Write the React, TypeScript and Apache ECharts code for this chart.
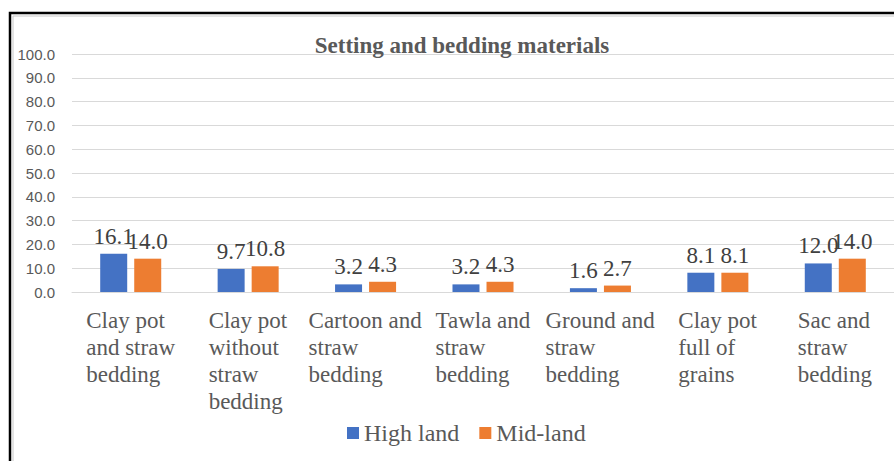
import React, { useEffect, useRef } from "react";
import * as echarts from "echarts";

const categories = [
  "Clay pot\nand straw\nbedding",
  "Clay pot\nwithout\nstraw\nbedding",
  "Cartoon and\nstraw\nbedding",
  "Tawla and\nstraw\nbedding",
  "Ground and\nstraw\nbedding",
  "Clay pot\nfull of\ngrains",
  "Sac and\nstraw\nbedding",
];
const highLand = [16.1, 9.7, 3.2, 3.2, 1.6, 8.1, 12.0];
const midLand = [14.0, 10.8, 4.3, 4.3, 2.7, 8.1, 14.0];
const seriesNames = ["High land", "Mid-land"];

const SERIF = "'Liberation Serif', 'Times New Roman', serif";
const SANS = "'Liberation Sans', Arial, sans-serif";
const GRAY = "#595959";

export default function App() {
  const ref = useRef<HTMLDivElement>(null);
  useEffect(() => {
    document.body.style.margin = "0";
    if (!ref.current) return;
    const chart = echarts.init(ref.current, null, { renderer: "svg" });

    const canvas = document.createElement("canvas");
    const ctx = canvas.getContext("2d")!;
    ctx.font = `23px ${SERIF}`;
    const rich: Record<string, any> = {};
    categories.forEach((c, i) => {
      const w = Math.max(...c.split("\n").map((l) => ctx.measureText(l).width));
      rich["c" + i] = {
        width: Math.ceil(w),
        align: "left",
        fontSize: 23,
        lineHeight: 27,
        fontFamily: SERIF,
        color: GRAY,
      };
    });

    const labelCfg = {
      show: true,
      position: "top",
      distance: 6,
      fontSize: 23,
      fontFamily: SERIF,
      color: "#404040",
      formatter: (p: any) => Number(p.value).toFixed(1),
    };

    chart.setOption({
      animation: false,
      title: {
        text: "Setting and bedding materials",
        left: 457,
        textAlign: "center",
        top: 29,
        textStyle: { fontFamily: SERIF, fontWeight: "bold", fontSize: 23, color: GRAY },
      },
      graphic: [
        {
          type: "rect",
          shape: { x: 10, y: 13, width: 1000, height: 1000 },
          style: { fill: "none", stroke: "#000", lineWidth: 2.5 },
          silent: true,
        },
        {
          type: "rect",
          shape: { x: 13, y: 16, width: 1000, height: 1000 },
          style: { fill: "none", stroke: "#c8c8c8", lineWidth: 1 },
          silent: true,
        },
      ],
      legend: {
        data: seriesNames,
        left: 342,
        top: 416,
        icon: "rect",
        itemWidth: 12,
        itemHeight: 12,
        itemGap: 20,
        textStyle: { fontFamily: SERIF, fontSize: 24, color: GRAY },
      },
      grid: { left: 72, right: -11, top: 54, bottom: 169, containLabel: false },
      xAxis: {
        type: "category",
        data: categories,
        axisLine: { lineStyle: { color: "#d9d9d9" } },
        axisTick: { show: false },
        axisLabel: {
          interval: 0,
          margin: 15,
          verticalAlign: "top",
          formatter: (v: string, idx: number) =>
            v.split("\n").map((l) => `{c${idx}|${l}}`).join("\n"),
          rich,
        },
      },
      yAxis: {
        type: "value",
        min: 0,
        max: 100,
        interval: 10,
        axisLine: { show: false },
        axisTick: { show: false },
        splitLine: { lineStyle: { color: "#d9d9d9" } },
        axisLabel: {
          margin: 17,
          fontFamily: SANS,
          fontSize: 15,
          color: GRAY,
          formatter: (v: number) => v.toFixed(1),
        },
      },
      series: [
        {
          name: seriesNames[0],
          type: "bar",
          data: highLand,
          barWidth: 27,
          barGap: "26%",
          itemStyle: { color: "#4472C4" },
          label: labelCfg,
        },
        {
          name: seriesNames[1],
          type: "bar",
          data: midLand,
          barWidth: 27,
          itemStyle: { color: "#ED7D31" },
          label: labelCfg,
        },
      ],
    });
    return () => chart.dispose();
  }, []);
  return <div ref={ref} style={{ width: 894, height: 461 }} />;
}
